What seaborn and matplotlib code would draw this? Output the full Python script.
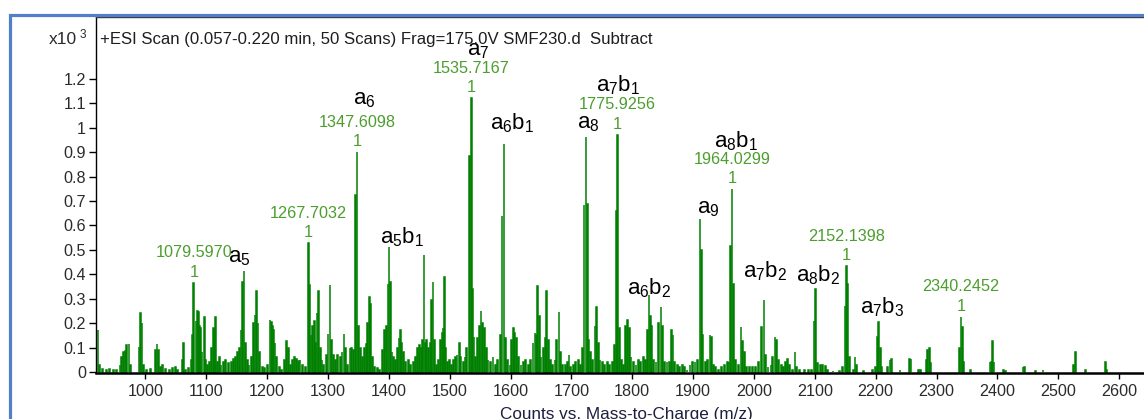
import numpy as np
import pandas as pd
import matplotlib
matplotlib.use("Agg")
import matplotlib.pyplot as plt
import seaborn as sns
from matplotlib.patches import Rectangle

# ---------------- data ----------------
mz = [
    922, 925, 930, 936, 941, 947, 953, 958, 961, 963.5, 966.8, 969, 972.9, 975,
    989.3, 991.5, 994.2, 997, 1002, 1008, 1016.7, 1018.9, 1021.7, 1025, 1028,
    1033, 1040, 1045, 1050, 1053, 1060.5, 1062.8, 1066, 1071, 1075, 1077.5,
    1079.5970, 1083, 1085.1, 1086.7, 1088.5, 1090.7, 1093, 1096.7, 1099, 1102,
    1105, 1108, 1111.4, 1113, 1115.3, 1118, 1121, 1124, 1128, 1132, 1136, 1141,
    1144, 1148, 1151, 1154, 1157, 1159.7, 1161.9, 1164, 1167,
    1170, 1174, 1177, 1180, 1182.7, 1185, 1188, 1192, 1196, 1200, 1204.6,
    1206.5, 1208.5, 1210.5, 1213, 1216, 1220, 1224, 1229, 1232, 1234.5, 1238,
    1242, 1245, 1248, 1251, 1254, 1258, 1263, 1267.7032, 1270, 1272, 1275,
    1277.5, 1280, 1282, 1284, 1287, 1290, 1293, 1297, 1300, 1303.2, 1306,
    1309, 1312, 1316, 1320, 1323, 1326.2, 1329, 1332, 1336, 1339, 1342, 1345.5,
    1347.6098, 1350.5, 1353, 1356, 1360, 1363, 1365.5, 1367.8, 1370, 1373,
    1377, 1381, 1385, 1390, 1393, 1396, 1398.5, 1400.2, 1402.5, 1405, 1408,
    1411, 1414, 1416.5, 1418.8, 1421, 1424, 1428, 1432, 1436, 1440, 1444,
    1447, 1450, 1453, 1455.5, 1457.7, 1460, 1462.5, 1465, 1468, 1470.3, 1472.5,
    1475, 1478, 1482, 1485, 1487.5, 1489, 1491, 1493.5, 1497, 1500, 1503, 1506,
    1509, 1512, 1515.7, 1518, 1522, 1525, 1528, 1532, 1535.7167, 1537.5, 1540,
    1543, 1546, 1548.5, 1551.3, 1554, 1557, 1560, 1563, 1567, 1571, 1575, 1579,
    1583, 1585.9, 1589.2, 1591.5, 1595, 1599, 1602, 1604.5, 1607, 1610, 1613,
    1617, 1621, 1625, 1629, 1633, 1637, 1640, 1642, 1644.5, 1647, 1650, 1654,
    1657, 1659.3, 1662, 1665, 1669, 1673, 1676, 1679.5, 1682, 1686, 1690, 1693,
    1696, 1699, 1703, 1707, 1711, 1715, 1718, 1720.6, 1723.9, 1726, 1728.5,
    1731, 1735, 1738.7, 1741.5, 1744, 1747, 1751, 1755, 1759, 1763, 1767, 1771,
    1774.2, 1775.9256, 1778.5, 1782, 1786, 1789.1, 1792.4, 1795, 1798, 1802,
    1806, 1810, 1814, 1818, 1822, 1825, 1827.4, 1829.5, 1832, 1835, 1839,
    1843, 1847.1, 1849.5, 1853, 1857, 1861, 1864.7, 1867, 1870, 1874, 1878,
    1882, 1886, 1890, 1895, 1899, 1903, 1907, 1911.3, 1913.5, 1916, 1920, 1924,
    1927.7, 1930, 1933, 1937, 1942, 1947, 1952, 1956, 1959, 1961.7, 1964.0299,
    1966.5, 1970, 1975, 1978.6, 1981, 1984, 1988, 1993, 1998, 2003, 2008, 2012,
    2016.4, 2019, 2023, 2028, 2031, 2034.5, 2037, 2040, 2045, 2049, 2052, 2055,
    2058, 2063, 2067.4, 2070, 2075, 2083, 2090, 2095, 2098.6, 2101.4, 2104,
    2109, 2113, 2117, 2121, 2130, 2140, 2145, 2149.5, 2152.1398, 2154, 2156.5,
    2163, 2166, 2168.5, 2180, 2195, 2200, 2202.7, 2205, 2207.5, 2210, 2220,
    2223.5, 2226, 2240, 2255.2, 2258, 2270, 2274, 2283, 2285.5, 2288, 2290.5,
    2338, 2340.2452, 2342.5, 2344.5, 2356, 2388, 2390.5, 2392.5, 2394.5, 2410,
    2414, 2442, 2445, 2462, 2475, 2525, 2528.7, 2545, 2578, 2580,
]
intensity = [
    0.17, 0.03, 0.012, 0.01, 0.012, 0.008, 0.01, 0.03, 0.06, 0.083, 0.087, 0.109, 0.114, 0.03,
    0.104, 0.24, 0.202, 0.03, 0.01, 0.012, 0.09, 0.114, 0.09, 0.02, 0.03,
    0.012, 0.01, 0.015, 0.02, 0.01, 0.05, 0.117, 0.01, 0.015, 0.05, 0.15,
    0.366, 0.21, 0.251, 0.245, 0.19, 0.18, 0.08, 0.227, 0.05, 0.03,
    0.04, 0.1, 0.18, 0.17, 0.227, 0.04, 0.06, 0.03, 0.04, 0.05, 0.035, 0.04,
    0.055, 0.06, 0.08, 0.1, 0.17, 0.37, 0.415, 0.12, 0.05,
    0.03, 0.06, 0.2, 0.233, 0.333, 0.2, 0.08, 0.02, 0.015, 0.03, 0.213,
    0.205, 0.19, 0.17, 0.12, 0.06, 0.02, 0.01, 0.05, 0.128, 0.1, 0.03,
    0.05, 0.06, 0.055, 0.045, 0.05, 0.03, 0.02, 0.527, 0.356, 0.15, 0.19,
    0.21, 0.12, 0.24, 0.332, 0.1, 0.05, 0.03, 0.07, 0.155, 0.356, 0.13,
    0.07, 0.05, 0.07, 0.06, 0.08, 0.155, 0.1, 0.03, 0.1, 0.1, 0.09, 0.723,
    0.90, 0.19, 0.1, 0.06, 0.1, 0.115, 0.2, 0.309, 0.28, 0.06,
    0.02, 0.015, 0.01, 0.09, 0.17, 0.19, 0.36, 0.51, 0.37, 0.08, 0.06,
    0.05, 0.1, 0.14, 0.17, 0.12, 0.08, 0.04, 0.05, 0.03, 0.04, 0.06,
    0.1, 0.11, 0.1, 0.13, 0.48, 0.12, 0.13, 0.1, 0.12, 0.295, 0.367,
    0.13, 0.03, 0.05, 0.13, 0.16, 0.18, 0.39, 0.1, 0.04, 0.05, 0.03, 0.05,
    0.06, 0.07, 0.12, 0.06, 0.04, 0.06, 0.1, 0.883, 1.122, 0.34, 0.145,
    0.06, 0.14, 0.19, 0.25, 0.2, 0.18, 0.1, 0.05, 0.04, 0.06, 0.03, 0.05,
    0.15, 0.637, 0.934, 0.14, 0.05, 0.03, 0.13, 0.18, 0.16, 0.14, 0.06,
    0.03, 0.04, 0.05, 0.03, 0.05, 0.12, 0.16, 0.15, 0.352, 0.23, 0.06, 0.1,
    0.14, 0.33, 0.13, 0.05, 0.03, 0.05, 0.13, 0.247, 0.08, 0.03, 0.03, 0.04,
    0.07, 0.02, 0.03, 0.04, 0.05, 0.03, 0.1, 0.684, 0.964, 0.69, 0.13,
    0.08, 0.05, 0.19, 0.265, 0.12, 0.05, 0.04, 0.03, 0.04, 0.03, 0.04, 0.11,
    0.661, 0.971, 0.18, 0.05, 0.03, 0.19, 0.213, 0.18, 0.06, 0.04,
    0.03, 0.05, 0.04, 0.06, 0.05, 0.17, 0.315, 0.23, 0.19, 0.05, 0.04,
    0.2, 0.265, 0.19, 0.04, 0.04, 0.04, 0.17, 0.15, 0.04, 0.03, 0.02,
    0.03, 0.02, 0.01, 0.03, 0.04, 0.04, 0.05, 0.626, 0.5, 0.15, 0.04, 0.05,
    0.15, 0.145, 0.03, 0.02, 0.01, 0.02, 0.03, 0.04, 0.04, 0.514, 0.749,
    0.36, 0.05, 0.03, 0.186, 0.125, 0.08, 0.02, 0.02, 0.02, 0.02, 0.04, 0.185,
    0.295, 0.07, 0.02, 0.03, 0.06, 0.145, 0.13, 0.05, 0.03, 0.02, 0.04, 0.055,
    0.03, 0.01, 0.08, 0.02, 0.01, 0.01, 0.01, 0.01, 0.21, 0.339, 0.035,
    0.03, 0.03, 0.025, 0.01, 0.005, 0.005, 0.02, 0.27, 0.434, 0.36, 0.06,
    0.01, 0.06, 0.03, 0.005, 0.01, 0.02, 0.145, 0.206, 0.1, 0.02, 0.02,
    0.05, 0.055, 0.01, 0.055, 0.055, 0.01, 0.01, 0.05, 0.09, 0.1, 0.035,
    0.1, 0.227, 0.185, 0.04, 0.01, 0.04, 0.04, 0.128, 0.04, 0.01,
    0.005, 0.02, 0.02, 0.005, 0.01, 0.03, 0.083, 0.01, 0.04, 0.01,
]

labelled_mz = [1079.5970, 1267.7032, 1347.6098, 1535.7167,
               1775.9256, 1964.0299, 2152.1398, 2340.2452]

ion_labels = ["a_5", "a_6", "a_5b_1", "a_7", "a_6b_1", "a_8", "a_7b_1",
              "a_6b_2", "a_9", "a_8b_1", "a_7b_2", "a_8b_2", "a_7b_3"]
ion_x = [1153.7, 1359.0, 1421.5, 1546.4, 1602.3, 1727.2, 1776.5,
         1827.4, 1924.4, 1970.4, 2018.0, 2105.3, 2210.5]
ion_y = [0.450, 1.097, 0.528, 1.298, 0.995, 0.999, 1.147,
         0.319, 0.651, 0.921, 0.389, 0.369, 0.242]

x_ticks = [1000, 1100, 1200, 1300, 1400, 1500, 1600, 1700, 1800,
           1900, 2000, 2100, 2200, 2300, 2400, 2500, 2600]
y_ticks = [0, 0.1, 0.2, 0.3, 0.4, 0.5, 0.6, 0.7, 0.8, 0.9, 1.0, 1.1, 1.2]
y_tick_labels = ["0", "0.1", "0.2", "0.3", "0.4", "0.5", "0.6",
                 "0.7", "0.8", "0.9", "1", "1.1", "1.2"]

title_text = "+ESI Scan (0.057-0.220 min, 50 Scans) Frag=175.0V SMF230.d  Subtract"
x_label = "Counts vs. Mass-to-Charge (m/z)"
scale_text = "x10"
scale_exp = "3"

# ---------------- style ----------------
sns.set_theme(style="ticks")
plt.rcParams["font.family"] = ["Liberation Sans", "DejaVu Sans"]
plt.rcParams["mathtext.default"] = "regular"

W, H = 1144, 419
fig = plt.figure(figsize=(W / 100, H / 100), dpi=100)
fig.patch.set_facecolor("white")

px_per_unit = 0.6085
ax_left_px, ax_top_px, ax_bottom_px = 96, 17, 373.3
ax_w = 0.936
ax = fig.add_axes([ax_left_px / W, 1 - ax_bottom_px / H, ax_w, (ax_bottom_px - ax_top_px) / H])
ax.set_facecolor("white")

df = pd.DataFrame({"mz": mz, "intensity": intensity})

sns.barplot(data=df, x="mz", y="intensity", native_scale=True, errorbar=None,
            color="#008000", saturation=1, width=0.9, linewidth=1.1,
            edgecolor="#008000", ax=ax)

x0 = 918.7
ax.set_xlim(x0, x0 + ax_w * W / px_per_unit)
ax.set_ylim(-0.0053, 1.4537)

ax.set_xticks(x_ticks)
ax.set_xticklabels([str(t) for t in x_ticks])
ax.set_yticks(y_ticks)
ax.set_yticklabels(y_tick_labels)
ax.set_xlabel("")
ax.set_ylabel("")
ax.tick_params(axis="x", length=4, width=1, pad=3.5, labelsize=11.6,
               labelcolor="#2b2b2b", color="black", direction="out")
ax.tick_params(axis="y", length=5, width=1, pad=2.2, labelsize=11.6,
               labelcolor="#2b2b2b", color="black", direction="out")

for side in ["left", "top", "right", "bottom"]:
    ax.spines[side].set_visible(True)
    ax.spines[side].set_color("black")
ax.spines["left"].set_linewidth(1.0)
ax.spines["top"].set_linewidth(1.0)
ax.spines["top"].set_color("#3a3a3a")
ax.spines["bottom"].set_linewidth(1.8)
ax.spines["right"].set_visible(False)

# green m/z labels over labelled peaks
green = "#4c9e2e"
lookup = dict(zip(df["mz"], df["intensity"]))
for m in labelled_mz:
    h = lookup[m]
    ax.annotate(f"{m:.4f}", xy=(m, h), xytext=(0, 30), textcoords="offset pixels",
                ha="center", va="center", color=green, fontsize=11.7)
    ax.annotate("1", xy=(m, h), xytext=(0, 10.5), textcoords="offset pixels",
                ha="center", va="center", color=green, fontsize=11.7)

# ion labels
for lab, xx, yy in zip(ion_labels, ion_x, ion_y):
    ax.text(xx, yy, f"$\\mathregular{{{lab}}}$", ha="center", va="baseline",
            fontsize=16, color="black")

# header texts
fig.text(100 / W, 1 - 44 / H, title_text, ha="left", va="baseline",
         fontsize=12.1, color="#1e1e1e")
fig.text(77 / W, 1 - 44 / H, scale_text, ha="right", va="baseline",
         fontsize=12.5, color="#2b2b2b")
fig.text(80 / W, 1 - 38 / H, scale_exp, ha="left", va="baseline",
         fontsize=8.5, color="#2b2b2b")

# x label (cut by bottom edge as in the reference)
fig.text(626 / W, 1 - 418.5 / H, x_label, ha="center", va="baseline",
         fontsize=12.3, color="#1e1e3e")

# outer blue frame
fig.add_artist(Rectangle((9.5 / W, -0.2), 1.2, 1.2 - 15.5 / H,
                         transform=fig.transFigure, fill=False,
                         edgecolor="#5080c8", linewidth=2.3))

fig.savefig("out.png", dpi=100, facecolor="white")
